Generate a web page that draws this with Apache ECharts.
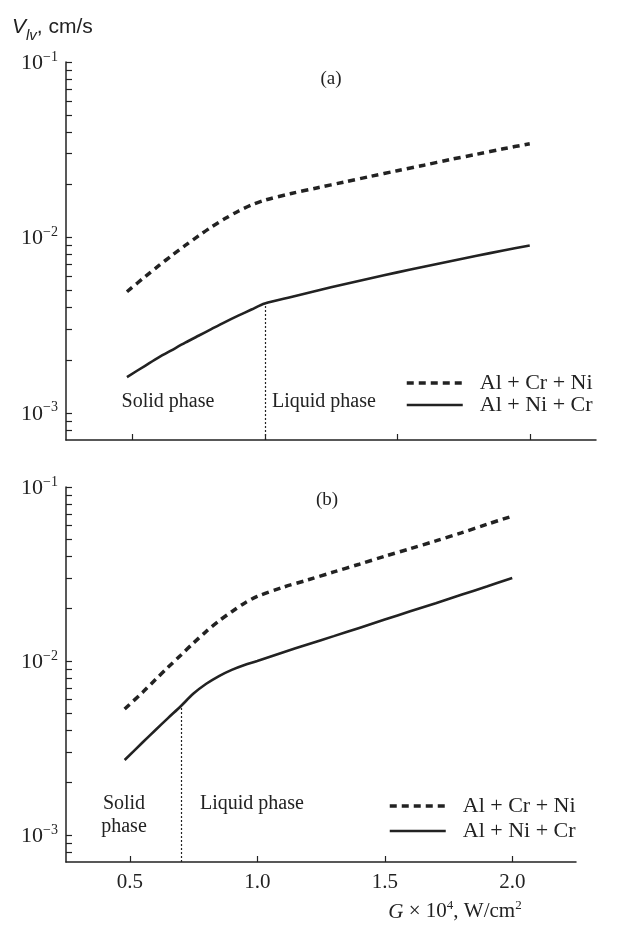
<!DOCTYPE html>
<html>
<head>
<meta charset="utf-8">
<script src="https://cdn.jsdelivr.net/npm/echarts@6/dist/echarts.min.js"></script>
<style>
  html, body { margin: 0; padding: 0; background: #fff; }
  #chart { width: 618px; height: 926px; }
</style>
</head>
<body>
<div id="chart"></div>
<script>
// G x 10^4, W/cm^2
const gVals = [0.48, 0.55, 0.6, 0.65, 0.7, 0.75, 0.8, 0.85, 0.9, 0.95, 1.0, 1.1, 1.2, 1.3, 1.4, 1.5, 1.6, 1.7, 1.8, 1.9, 2.0]
// panel (a), V_lv cm/s
const crNiA = [0.0049, 0.0060, 0.0069, 0.0079, 0.0090, 0.0102, 0.0115, 0.0128, 0.0141, 0.0153, 0.0163, 0.0178, 0.0192, 0.0207, 0.0223, 0.0240, 0.0258, 0.0278, 0.0298, 0.0320, 0.0342]
const niCrA = [0.0016, 0.00186, 0.00207, 0.00228, 0.00251, 0.00275, 0.00301, 0.00329, 0.00358, 0.00388, 0.0042, 0.00458, 0.00498, 0.00541, 0.00585, 0.00632, 0.00681, 0.00732, 0.00786, 0.00842, 0.0090]
// panel (b)
const crNiB = [0.0053, 0.0066, 0.0078, 0.0092, 0.0108, 0.0127, 0.0148, 0.0170, 0.0192, 0.0215, 0.0235, 0.0265, 0.0293, 0.0325, 0.0360, 0.0400, 0.0442, 0.0490, 0.0545, 0.0610, 0.0680]
const niCrB = [0.0027, 0.0034, 0.0040, 0.0047, 0.0055, 0.0065, 0.0074, 0.0082, 0.0089, 0.0095, 0.0100, 0.0112, 0.0125, 0.0139, 0.0155, 0.0173, 0.0193, 0.0215, 0.0240, 0.0268, 0.0300]
// phase boundary (solid / liquid)
const boundaryA = 1.0
const boundaryB = 0.7

const names = ['Al + Cr + Ni', 'Al + Ni + Cr']
const xTicks = [0.5, 1.0, 1.5, 2.0]
const yLabels = [0.001, 0.01, 0.1]
const yTicks = [0.0008, 0.0009, 0.001, 0.002, 0.003, 0.004, 0.005, 0.006, 0.007, 0.008, 0.009,
  0.01, 0.02, 0.03, 0.04, 0.05, 0.06, 0.07, 0.08, 0.09, 0.1]

const serif = 'Liberation Serif'
const ink = '#222'

function pairs (ys) {
  return gVals.map((g, i) => [g, ys[i]])
}

function xAxisFor (idx, labels) {
  return {
    type: 'value',
    gridIndex: idx,
    min: 0.25,
    max: 2.25,
    axisLine: { lineStyle: { color: ink, width: 1.5 } },
    axisTick: { inside: true, length: 6, customValues: xTicks, lineStyle: { color: ink, width: 1.2 } },
    axisLabel: {
      show: labels,
      customValues: xTicks,
      margin: 10,
      color: ink,
      fontFamily: serif,
      fontSize: 21,
      formatter: v => v.toFixed(1)
    },
    splitLine: { show: false }
  }
}

function yAxisFor (idx) {
  return {
    type: 'log',
    logBase: 10,
    gridIndex: idx,
    min: 0.0007,
    max: 0.1,
    axisLine: { show: true, lineStyle: { color: ink, width: 1.5 } },
    axisTick: { inside: true, length: 6, customValues: yTicks, lineStyle: { color: ink, width: 1.2 } },
    axisLabel: {
      customValues: yLabels,
      margin: 8,
      color: ink,
      formatter: v => '{b|10}{s|−' + Math.round(-Math.log10(v)) + '}',
      rich: {
        b: { fontFamily: serif, fontSize: 22, color: ink, lineHeight: 24, verticalAlign: 'bottom' },
        s: { fontFamily: serif, fontSize: 14, color: ink, lineHeight: 24, verticalAlign: 'top', padding: [0, 0, 10, 0] }
      }
    },
    splitLine: { show: false }
  }
}

function boundary (g, ys) {
  const i = gVals.indexOf(g)
  return {
    symbol: 'none',
    silent: true,
    label: { show: false },
    lineStyle: { color: ink, type: [2, 2], width: 1.2 },
    data: [[{ coord: [g, 0.0007] }, { coord: [g, ys[i]] }]]
  }
}

function seriesFor (idx, dashed, solid, g) {
  return [{
    name: names[0],
    type: 'line',
    xAxisIndex: idx,
    yAxisIndex: idx,
    data: pairs(dashed),
    symbol: 'none',
    smooth: 0.3,
    itemStyle: { color: ink },
    lineStyle: { color: ink, width: 3.5, type: [7, 5] }
  }, {
    name: names[1],
    type: 'line',
    xAxisIndex: idx,
    yAxisIndex: idx,
    data: pairs(solid),
    symbol: 'none',
    smooth: 0.3,
    itemStyle: { color: ink },
    lineStyle: { color: ink, width: 2.6 },
    markLine: boundary(g, solid)
  }]
}

function legendFor (top, left, gap) {
  return {
    data: names,
    orient: 'vertical',
    top: top,
    left: left,
    itemWidth: 56,
    itemHeight: 14,
    itemGap: gap,
    selectedMode: false,
    itemStyle: { color: 'transparent', borderColor: 'transparent', borderWidth: 0, opacity: 0 },
    lineStyle: { width: 'inherit' },
    textStyle: { fontFamily: serif, fontSize: 22, lineHeight: 22, color: ink, padding: [0, 0, 0, 12] }
  }
}

function txt (x, y, text, size, align) {
  return {
    type: 'text',
    x: x,
    y: y,
    style: { text: text, fontFamily: serif, fontSize: size || 19, fill: ink, align: align || 'center', verticalAlign: 'middle' }
  }
}

const option = {
  animation: false,
  backgroundColor: '#fff',
  grid: [
    { left: 66, top: 62, width: 530, height: 378 },
    { left: 66, top: 487, width: 510, height: 375 }
  ],
  xAxis: [xAxisFor(0, false), xAxisFor(1, true)],
  yAxis: [yAxisFor(0), yAxisFor(1)],
  legend: [legendFor(367, 400, 0), legendFor(790, 383, 3)],
  series: [...seriesFor(0, crNiA, niCrA, boundaryA), ...seriesFor(1, crNiB, niCrB, boundaryB)],
  graphic: [
    {
      type: 'text',
      x: 12,
      y: 26,
      style: {
        text: '{v|V}{sub|lv}{n|, cm/s}',
        verticalAlign: 'middle',
        rich: {
          v: { fontFamily: 'Liberation Sans', fontStyle: 'italic', fontSize: 21, fill: ink, lineHeight: 24, verticalAlign: 'bottom' },
          sub: { fontFamily: 'Liberation Sans', fontStyle: 'italic', fontSize: 15, fill: ink, lineHeight: 24, verticalAlign: 'bottom', padding: [0, 0, -5, 0] },
          n: { fontFamily: 'Liberation Sans', fontSize: 21, fill: ink, lineHeight: 24, verticalAlign: 'bottom' }
        }
      }
    },
    txt(331, 79, '(a)', 19),
    txt(327, 500, '(b)', 19),
    txt(168, 402, 'Solid phase', 20),
    txt(272, 402, 'Liquid phase', 20, 'left'),
    txt(124, 804, 'Solid', 20),
    txt(124, 827, 'phase', 20),
    txt(200, 804, 'Liquid phase', 20, 'left'),
    {
      type: 'text',
      x: 455,
      y: 911,
      style: {
        text: '{i|G} × 10{s|4}, W/cm{s|2}',
        fontFamily: serif,
        fontSize: 21,
        fill: ink,
        align: 'center',
        verticalAlign: 'middle',
        rich: {
          i: { fontFamily: serif, fontStyle: 'italic', fontSize: 21, fill: ink, lineHeight: 24, verticalAlign: 'bottom' },
          s: { fontFamily: serif, fontSize: 13, fill: ink, lineHeight: 24, verticalAlign: 'top' }
        }
      }
    }
  ]
}

const myChart = echarts.init(document.getElementById('chart'))
myChart.setOption(option)
</script>
</body>
</html>
